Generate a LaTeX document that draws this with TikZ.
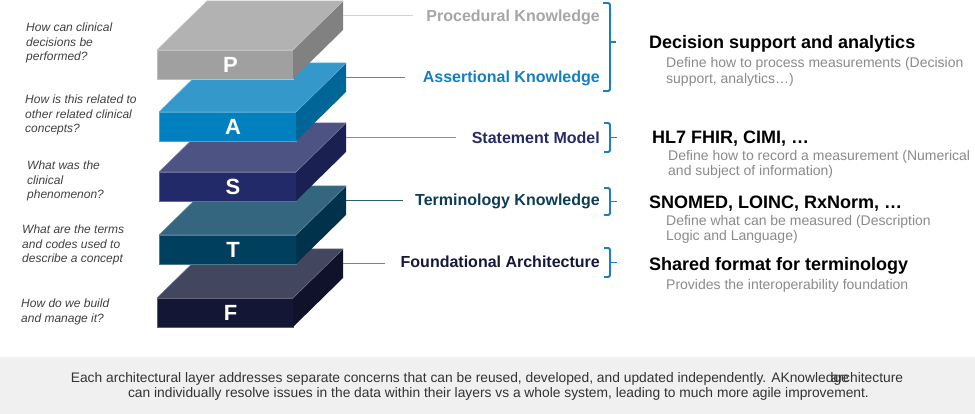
\documentclass[tikz,border=0pt]{standalone}
\usepackage{fontspec}
\setmainfont{Liberation Sans}
\definecolor{pTop}{HTML}{B2B2B3}
\definecolor{pFront}{HTML}{A0A0A1}
\definecolor{pSide}{HTML}{818182}
\definecolor{aTop}{HTML}{3598CA}
\definecolor{aFront}{HTML}{0080BE}
\definecolor{aSide}{HTML}{006698}
\definecolor{sTop}{HTML}{4D5383}
\definecolor{sFront}{HTML}{232A69}
\definecolor{sSide}{HTML}{1B2052}
\definecolor{tTop}{HTML}{356680}
\definecolor{tFront}{HTML}{003F5E}
\definecolor{tSide}{HTML}{00324B}
\definecolor{fTop}{HTML}{43465F}
\definecolor{fFront}{HTML}{131634}
\definecolor{fSide}{HTML}{10122B}
\definecolor{pLab}{HTML}{A6A6A6}
\definecolor{aLab}{HTML}{127FC2}
\definecolor{sLab}{HTML}{262B62}
\definecolor{tLab}{HTML}{0C3D57}
\definecolor{fLab}{HTML}{15183A}
\definecolor{brace}{HTML}{1A80C4}
\definecolor{subGray}{HTML}{8A8A8A}
\definecolor{question}{HTML}{404040}
\definecolor{band}{HTML}{F0F0F0}
\begin{document}
\begin{tikzpicture}[x=1pt,y=-1pt,
  slabfront/.style={minimum width=#1, minimum height=29pt, inner sep=0pt,
    outer sep=0pt, anchor=north west, text=white,
    font=\fontsize{22}{22}\selectfont\bfseries},
  layerlabel/.style={anchor=base east, inner sep=0pt,
    font=\fontsize{16}{19}\selectfont\bfseries},
  conn/.style={line width=1pt},
  bracket/.style={draw=brace, line width=1.8pt, rounded corners=1.5pt},
  headline/.style={anchor=base west, inner sep=0pt,
    font=\fontsize{18}{21}\selectfont\bfseries},
  subline/.style={anchor=north west, inner sep=0pt, align=left, text=subGray,
    font=\fontsize{14}{15.5}\selectfont},
  questiontext/.style={anchor=north west, inner sep=0pt, align=left, text=question,
    font=\fontsize{12}{14.5}\selectfont\itshape},
]
\useasboundingbox (0,0) rectangle (975,414);

% one slab of the stack: name, left x, top y, width, letter, colours
\newcommand{\slab}[8]{%
  \node[slabfront=#4pt, fill=#7, draw=white!30!#7, line width=0.6pt] (#1) at (#2,#3) {\hspace*{11pt}#5};
  \fill[#6] (#1.north west) -- (#1.north east) -- ++(50,-49) -- ++(-#4,0) -- cycle;
  \draw[white!25!#6, line width=0.5pt] (#1.north west) -- ++(50,-49) -- ++(#4,0);
  \fill[#8] (#1.north east) -- ++(50,-49) -- ++(0,29) -- (#1.south east) -- cycle;
  \draw[white!25!#6, line width=0.5pt] (#1.north west) -- (#1.north east) -- ++(50,-49);
  \path (#1.north east) ++(50,-34.5) coordinate (#1e);
}

% stack, drawn from the bottom up
\slab{F}{157}{298}{136}{F}{fTop}{fFront}{fSide}
\slab{T}{159}{235}{137}{T}{tTop}{tFront}{tSide}
\slab{S}{159}{172}{137}{S}{sTop}{sFront}{sSide}
\slab{A}{159}{112}{137}{A}{aTop}{aFront}{aSide}
\slab{P}{157}{50}{136}{P}{pTop}{pFront}{pSide}

% layer names
\node[layerlabel, text=pLab] (Plab) at (600,21.5) {Procedural Knowledge};
\node[layerlabel, text=aLab] (Alab) at (600,83) {Assertional Knowledge};
\node[layerlabel, text=sLab] (Slab) at (600,144) {Statement Model};
\node[layerlabel, text=tLab] (Tlab) at (600,205.5) {Terminology Knowledge};
\node[layerlabel, text=fLab] (Flab) at (600,268) {Foundational Architecture};

% leader lines from the slabs to their names
\draw[conn, black!18] (Pe) -- ([xshift=-13pt]Pe -| Plab.west);
\draw[conn, aLab!85] (Ae) -- ([xshift=-18pt]Ae -| Alab.west);
\draw[conn, sLab!55] (Se) -- ([xshift=-16pt]Se -| Slab.west);
\draw[conn, tLab!85] (Te) -- ([xshift=-12pt]Te -| Tlab.west);
\draw[conn, fLab!55] (Fe) -- ([xshift=-15pt]Fe -| Flab.west);

% brackets
\draw[bracket] (603,3) -- (610,3) -- (610,91) -- (603,91);
\draw[bracket] (610,42) -- (616,42);
\draw[bracket] (604,123) -- (610,123) -- (610,152) -- (604,152);
\draw[bracket] (610,137.5) -- (617,137.5);
\draw[bracket] (604,188) -- (610,188) -- (610,215) -- (604,215);
\draw[bracket] (610,201.5) -- (617,201.5);
\draw[bracket] (604,248) -- (610,248) -- (610,277) -- (604,277);
\draw[bracket] (610,262.5) -- (617,262.5);

% what each group stands for
\node[headline] (h1) at (649,48.3) {Decision support and analytics};
\node[subline] (d1) at (666,57.5) {Define how to process measurements (Decision\\support, analytics\dots)};
\node[headline] (h2) at (652,144) {HL7 FHIR, CIMI, \dots};
\node[subline] (d2) at (668,149.8) {Define how to record a measurement (Numerical\\and subject of information)};
\node[headline] (h3) at (649,209) {SNOMED, LOINC, RxNorm, \dots};
\node[subline] (d3) at (666,214.8) {Define what can be measured (Description\\Logic and Language)};
\node[headline] (h4) at (649,270.7) {Shared format for terminology};
\node[subline] (d4) at (666,278.8) {Provides the interoperability foundation};

% questions on the left
\node[questiontext] (q1) at (26,22.8) {How can clinical\\decisions be\\performed?};
\node[questiontext] (q2) at (25,94.8) {How is this related to\\other related clinical\\concepts?};
\node[questiontext] (q3) at (27,160.8) {What was the\\clinical\\phenomenon?};
\node[questiontext] (q4) at (22,224.8) {What are the terms\\and codes used to\\describe a concept};
\node[questiontext] (q5) at (21,298.8) {How do we build\\and manage it?};

% footer band
\fill[band] (0,357) rectangle (975,414);
\node[align=center, inner sep=0pt, text=black!80, font=\fontsize{13.8}{15}\selectfont]
  (foot) at (487,386) {Each architectural layer addresses separate concerns that can be reused, developed, and updated independently. AKnowledge\kern-1.3em architecture\\
  \hspace*{23pt}can individually resolve issues in the data within their layers vs a whole system, leading to much more agile improvement.};
\end{tikzpicture}
\end{document}
